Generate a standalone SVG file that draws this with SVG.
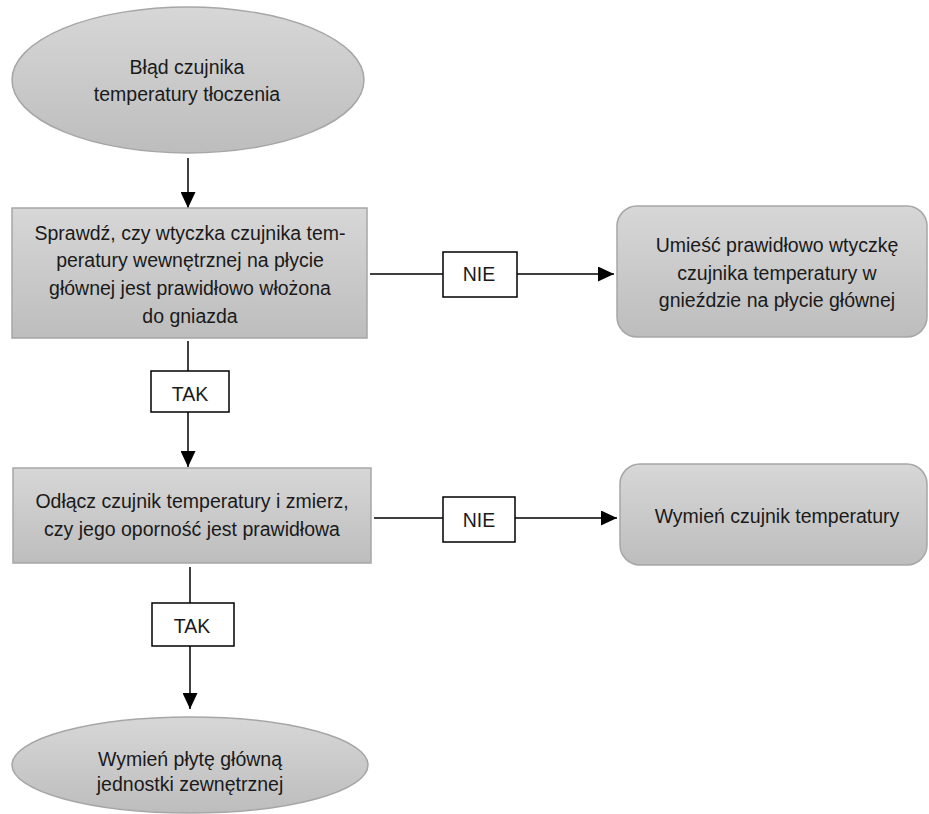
<svg xmlns="http://www.w3.org/2000/svg" width="929" height="814" viewBox="0 0 929 814">
<defs>
<linearGradient id="g" x1="0" y1="0" x2="0" y2="1">
<stop offset="0" stop-color="#d7d7d7"/>
<stop offset="1" stop-color="#bdbdbd"/>
</linearGradient>
<marker id="arr" markerUnits="userSpaceOnUse" markerWidth="16" markerHeight="15" refX="16" refY="7.5" orient="auto">
<path d="M0,0 L16,7.5 L0,15 z" fill="#000"/>
</marker>
<style>
.n{fill:url(#g);stroke:#a6a6a6;stroke-width:1.5}
.t{font-family:"Liberation Sans",Arial,sans-serif;font-size:19.5px;fill:#1a1a1a;text-anchor:middle}
.lb{fill:#fff;stroke:#000;stroke-width:1.5}
.c{stroke:#000;stroke-width:1.5;fill:none}
</style>
</defs>
<rect width="929" height="814" fill="#fff"/>
<g id="connectors">
<line class="c" x1="188" y1="158" x2="188" y2="208" marker-end="url(#arr)"/>
<line class="c" x1="188" y1="341" x2="188" y2="371"/>
<line class="c" x1="188" y1="412" x2="188" y2="467" marker-end="url(#arr)"/>
<line class="c" x1="370" y1="274" x2="443" y2="274"/>
<line class="c" x1="517" y1="274" x2="614" y2="274" marker-end="url(#arr)"/>
<line class="c" x1="190" y1="567" x2="190" y2="603"/>
<line class="c" x1="190" y1="646" x2="190" y2="709" marker-end="url(#arr)"/>
<line class="c" x1="374" y1="518" x2="443" y2="518"/>
<line class="c" x1="515" y1="518" x2="617" y2="518" marker-end="url(#arr)"/>
</g>
<g id="start">
<ellipse class="n" cx="188" cy="80" rx="176" ry="73"/>
<text class="t" x="187" y="74">Błąd czujnika</text>
<text class="t" x="187" y="101">temperatury tłoczenia</text>
</g>
<g id="check1">
<rect class="n" x="12" y="208" width="355" height="130"/>
<text class="t" x="190" y="240">Sprawdź, czy wtyczka czujnika tem-</text>
<text class="t" x="190" y="267">peratury wewnętrznej na płycie</text>
<text class="t" x="190" y="295">głównej jest prawidłowo włożona</text>
<text class="t" x="190" y="323">do gniazda</text>
</g>
<g id="nie1">
<rect class="lb" x="443" y="252" width="74" height="45"/>
<text class="t" x="479" y="281">NIE</text>
</g>
<g id="fix1">
<rect class="n" x="617" y="206" width="310" height="131" rx="20"/>
<text class="t" x="777" y="252">Umieść prawidłowo wtyczkę</text>
<text class="t" x="777" y="280">czujnika temperatury w</text>
<text class="t" x="777" y="307">gnieździe na płycie głównej</text>
</g>
<g id="tak1">
<rect class="lb" x="151" y="371" width="78" height="41"/>
<text class="t" x="190" y="401">TAK</text>
</g>
<g id="check2">
<rect class="n" x="13" y="468" width="358" height="95"/>
<text class="t" x="192" y="508">Odłącz czujnik temperatury i zmierz,</text>
<text class="t" x="192" y="536">czy jego oporność jest prawidłowa</text>
</g>
<g id="nie2">
<rect class="lb" x="443" y="497" width="72" height="45"/>
<text class="t" x="479" y="527">NIE</text>
</g>
<g id="fix2">
<rect class="n" x="620" y="464" width="307" height="101" rx="20"/>
<text class="t" x="777" y="523">Wymień czujnik temperatury</text>
</g>
<g id="tak2">
<rect class="lb" x="152" y="603" width="82" height="43"/>
<text class="t" x="192" y="633">TAK</text>
</g>
<g id="end">
<ellipse class="n" cx="190" cy="765" rx="178" ry="48"/>
<text class="t" x="190" y="766">Wymień płytę główną</text>
<text class="t" x="190" y="791">jednostki zewnętrznej</text>
</g>
</svg>
